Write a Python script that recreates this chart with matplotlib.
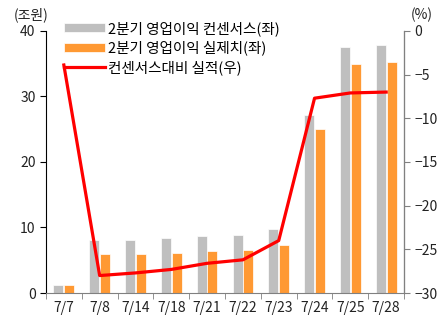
import numpy as np
import matplotlib.pyplot as plt

plt.rcParams['font.family'] = ['Noto Sans CJK KR', 'DejaVu Sans']

dates = ["7/7", "7/8", "7/14", "7/18", "7/21", "7/22", "7/23", "7/24", "7/25", "7/28"]
consensus = [1.2, 8.1, 8.1, 8.4, 8.7, 8.9, 9.7, 27.2, 37.6, 37.9]
actual = [1.2, 5.9, 5.9, 6.15, 6.4, 6.6, 7.4, 25.0, 34.9, 35.2]
gap_pct = [-3.9, -28.0, -27.7, -27.3, -26.6, -26.2, -24.0, -7.7, -7.1, -7.0]

fig = plt.figure(figsize=(4.46, 3.22), dpi=100)
ax = fig.add_axes([0.103, 0.090, 0.803, 0.814])
ax2 = ax.twinx()

x = np.arange(len(dates))
w = 0.28
ax.bar(x - w / 2 - 0.01, consensus, w, color="#BFBFBF", edgecolor="white", linewidth=0.5,
       label="2분기 영업이익 컨센서스(좌)")
ax.bar(x + w / 2 + 0.01, actual, w, color="#FF9933", edgecolor="white", linewidth=0.5,
       label="2분기 영업이익 실제치(좌)")
ax2.plot(x, gap_pct, color="#FF0000", linewidth=2.3, label="컨센서스대비 실적(우)")

ax.set_xlim(-0.5, len(dates) - 0.5)
ax.set_ylim(0, 40)
ax.set_yticks([0, 10, 20, 30, 40])
ax2.set_ylim(-30, 0)
ax2.set_yticks([0, -5, -10, -15, -20, -25, -30])

ax.set_xticks(x)
ax.set_xticklabels(dates)
ax.set_xticks(np.arange(-0.5, len(dates)), minor=True)
ax.tick_params(axis="x", which="major", length=0, pad=6)
ax.tick_params(axis="x", which="minor", length=4, color="#808080")
ax.tick_params(axis="y", length=4, color="black")
ax2.tick_params(axis="y", length=4, color="#808080")
for a in (ax, ax2):
    a.tick_params(labelsize=10, labelcolor="#222222")
    a.spines["top"].set_visible(False)

ax.spines["left"].set_color("black")
ax.spines["bottom"].set_color("#808080")
ax2.spines["right"].set_color("#808080")
ax2.spines["left"].set_visible(False)
ax2.spines["bottom"].set_visible(False)

fig.text(0.07, 0.955, "(조원)", fontsize=10, color="#222222", ha="center", va="center")
fig.text(0.945, 0.955, "(%)", fontsize=10, color="#222222", ha="center", va="center")

h1, l1 = ax.get_legend_handles_labels()
h2, l2 = ax2.get_legend_handles_labels()
leg = ax2.legend(h1 + h2, l1 + l2, loc="upper left", bbox_to_anchor=(0.035, 1.06),
                 frameon=False, fontsize=10.5, handlelength=2.8, handleheight=0.55,
                 handletextpad=0.2, labelspacing=0.33, borderaxespad=0)

fig.savefig("out.png", dpi=100)
